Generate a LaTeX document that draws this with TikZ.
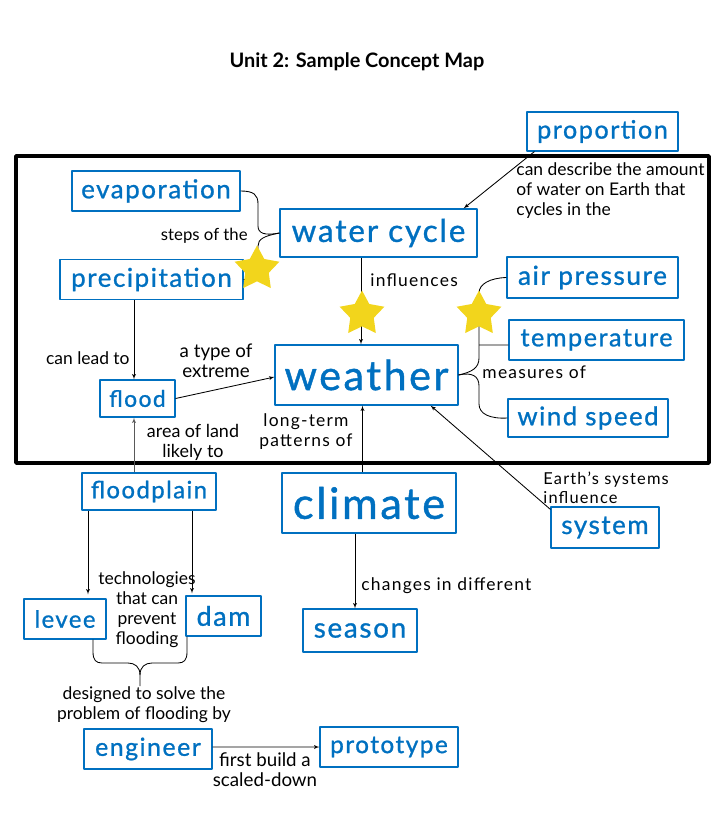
\documentclass[tikz,border=0pt]{standalone}
\usepackage{fontspec}
\setmainfont{Lato}
\newfontfamily\conceptfont[LetterSpace=6,FakeBold=1]{Lato}
\newfontfamily\widefont[LetterSpace=7]{Lato}
\usepackage{tikz}
\usetikzlibrary{arrows,shapes}
\definecolor{mapblue}{HTML}{0070C0}
\definecolor{staryellow}{HTML}{F2D51C}

\begin{document}
\begin{tikzpicture}[>=latex',line join=bevel,line width=0.85bp,
  concept/.style={draw=mapblue,line width=1.1bp,text=mapblue,inner sep=0pt,minimum height=40bp,
    font=\conceptfont\fontsize{#1}{#1}\selectfont},
  concept/.default=23,
  lbl/.style={font=\fontsize{#1}{20}\selectfont,inner sep=0pt},
  lbl/.default=17.5,
  wlbl/.style={font=\widefont\fontsize{17.5}{20}\selectfont,inner sep=0pt},
  starmark/.style={star,star points=5,star point ratio=1.9,fill=staryellow,draw=none,
    minimum size=47bp,inner sep=0pt}]
%%
\useasboundingbox (0bp,0bp) rectangle (721bp,-827bp);
\node (title) at (357bp,-62bp) [font=\bfseries\fontsize{20}{24}\selectfont] {Unit 2: Sample Concept Map};
\draw [line width=4bp] (16bp,-156bp) rectangle (709bp,-463bp);
%%
\node (prop) at (602.5bp,-131.5bp) [concept=25.3,minimum width=151bp,minimum height=39bp] {proportion};
\node (evap) at (156bp,-191bp) [concept=26,minimum width=168bp] {evaporation};
\node (wcyc) at (378.5bp,-233bp) [concept=31.5,minimum width=197bp,minimum height=48bp] {water cycle};
\node (prec) at (151.5bp,-279.5bp) [concept=26,minimum width=183bp] {precipitation};
\node (apres) at (592.5bp,-277.5bp) [concept=26.3,minimum width=171bp,minimum height=41bp] {air pressure};
\node (temp) at (596.5bp,-340bp) [concept=25.3,minimum width=175bp] {temperature};
\node (weather) at (366.5bp,-375bp) [concept=41.5,minimum width=183bp,minimum height=60bp] {weather};
\node (wind) at (588bp,-418bp) [concept=25.8,minimum width=160bp,minimum height=38bp] {wind speed};
\node (flood) at (137.5bp,-398.5bp) [concept=23,minimum width=75bp,minimum height=37bp] {flood};
\node (fplain) at (149bp,-491.5bp) [concept=24,minimum width=134bp,minimum height=37bp] {floodplain};
\node (climate) at (369bp,-503bp) [concept=43.5,minimum width=174bp,minimum height=60bp] {climate};
\node (sys) at (605bp,-527.5bp) [concept=26,minimum width=108bp,minimum height=41bp] {system};
\node (levee) at (65bp,-619bp) [concept=24,minimum width=82bp] {levee};
\node (dam) at (223.5bp,-616bp) [concept=27,minimum width=75bp] {dam};
\node (season) at (360bp,-630.5bp) [concept=28,minimum width=114bp,minimum height=43bp] {season};
\node (eng) at (148bp,-749bp) [concept=25,minimum width=128bp] {engineer};
\node (proto) at (389bp,-747bp) [concept=24.5,minimum width=138bp] {prototype};
%%
\node (l1) at (516bp,-162bp) [lbl,anchor=north west,align=left] {can describe the amount\\of water on Earth that\\cycles in the};
\node (l2) at (248bp,-236bp) [lbl=16.8,anchor=east] {steps of the};
\node (l3) at (370bp,-280bp) [wlbl,anchor=west] {influences};
\node (l4) at (482bp,-372bp) [wlbl,anchor=west] {measures of};
\node (l5) at (130bp,-358bp) [lbl,anchor=east] {can lead to};
\node (l6) at (216bp,-361bp) [lbl=18.8,align=center] {a type of\\extreme};
\node (l7) at (193bp,-442bp) [lbl=18,align=center] {area of land\\likely to};
\node (l8) at (306bp,-432bp) [wlbl,align=center] {long-term\\patterns of};
\node (l9) at (543bp,-487.5bp) [wlbl,anchor=west,align=left,font=\widefont\fontsize{16.5}{19}\selectfont] {Earth’s systems\\influence};
\node (l10) at (361bp,-586bp) [wlbl,anchor=west] {changes in different};
\node (l11) at (147bp,-610bp) [lbl,align=center] {technologies\\that can\\prevent\\flooding};
\node (l12) at (144bp,-704.5bp) [lbl,align=center] {designed to solve the\\problem of flooding by};
\node (l13) at (265bp,-770bp) [lbl=18.8,align=center] {first build a\\scaled-down};
%%
\draw [->] ([xshift=8bp]prop.south west) -- ([xshift=-14bp]wcyc.north east);
\draw (evap.east) .. controls (254bp,-191bp) and (258bp,-195bp) .. (258bp,-204bp) -- (258bp,-226bp) .. controls (258bp,-233bp) and (264bp,-236bp) .. (wcyc.west);
\draw (prec.east) .. controls (256bp,-282bp) and (258bp,-275bp) .. (258bp,-262bp) -- (258bp,-246bp) .. controls (258bp,-239bp) and (264bp,-236bp) .. (wcyc.west);
\draw [->] ([xshift=-17.5bp]wcyc.south) -- ([xshift=-17.5bp]wcyc.south |- weather.north);
\draw (weather.east) .. controls (472bp,-372bp) and (479bp,-368bp) .. (479bp,-358bp) -- (479bp,-293bp) .. controls (479bp,-284bp) and (490bp,-278bp) .. (apres.west);
\draw (479bp,-345bp) -- ([yshift=-5bp]temp.west);
\draw (weather.east) .. controls (472bp,-372bp) and (479bp,-376bp) .. (479bp,-386bp) -- (479bp,-404bp) .. controls (479bp,-414bp) and (490bp,-419bp) .. (wind.west);
\draw [->] ([xshift=-3.5bp]flood.north |- prec.south) -- ([xshift=-3.5bp]flood.north);
\draw [->] (flood.east) -- ([yshift=-2bp]weather.west);
\draw [->,black!65] ([xshift=-3.5bp]flood.south |- fplain.north) -- ([xshift=-3.5bp]flood.south);
\draw [->] ([xshift=-4bp]weather.south |- climate.north) -- ([xshift=-4bp]weather.south);
\draw [->] ([yshift=-3bp]sys.north west) -- ([xshift=-28bp]weather.south east);
\draw [->] ([xshift=-5bp]season.north |- climate.south) -- ([xshift=-5bp]season.north);
\draw [->] ([xshift=23bp]levee.north |- fplain.south) -- ([shift={(23bp,4bp)}]levee.north);
\draw [->] ([xshift=-31.5bp]dam.north |- fplain.south) -- ([shift={(-31.5bp,2bp)}]dam.north);
\coordinate (bj) at (140bp,-686bp);
\draw ([xshift=28bp]levee.south) -- (93bp,-652bp) .. controls (93bp,-660bp) and (96bp,-663bp) .. (102bp,-663bp) -- (128bp,-663bp) .. controls (135bp,-663bp) and (140bp,-667bp) .. (140bp,-675bp) -- (bj);
\draw ([xshift=-36.5bp]dam.south) -- (187bp,-652bp) .. controls (187bp,-660bp) and (184bp,-663bp) .. (178bp,-663bp) -- (152bp,-663bp) .. controls (145bp,-663bp) and (140bp,-667bp) .. (140bp,-675bp);
\draw [->] ([yshift=2bp]eng.east) -- (proto.west);
%%
\node (s1) at (257bp,-269bp) [starmark] {};
\node (s2) at (362bp,-314bp) [starmark] {};
\node (s3) at (479bp,-314bp) [starmark] {};
%
\end{tikzpicture}
\end{document}
